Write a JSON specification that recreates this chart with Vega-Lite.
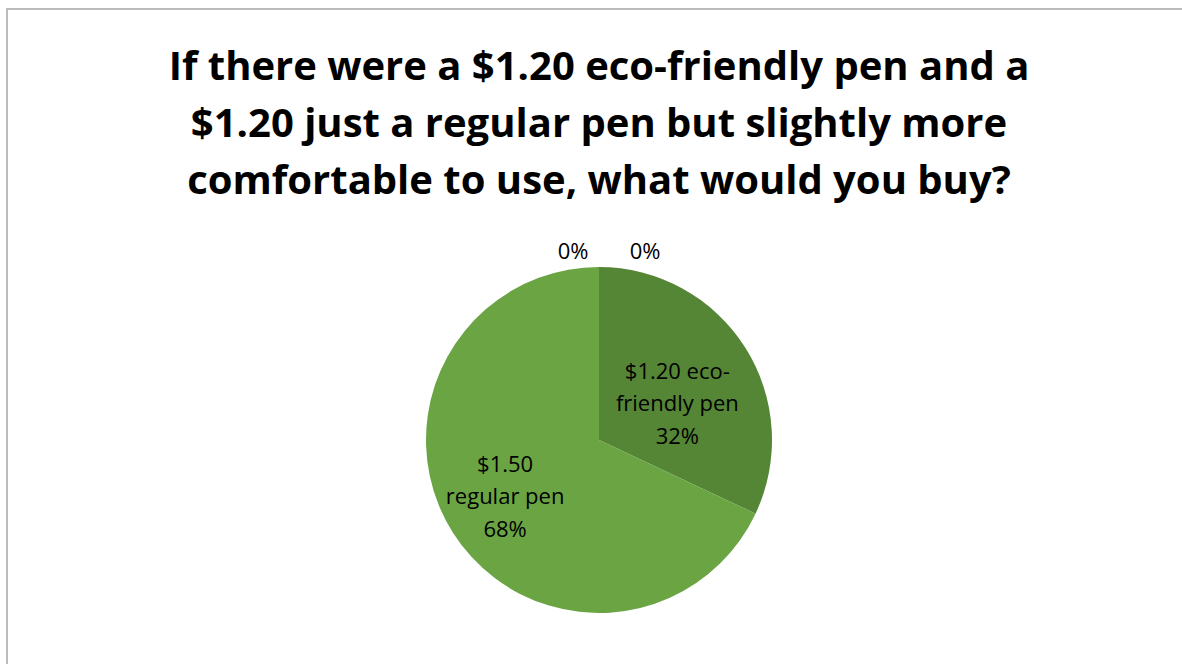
{
  "$schema": "https://vega.github.io/schema/vega-lite/v6.json",
  "width": 1184,
  "height": 862,
  "autosize": {"type": "none"},
  "padding": {"left": 7, "top": 9, "right": 100, "bottom": 0},
  "background": "white",
  "view": {"stroke": "#a6a6a6", "strokeWidth": 1.5},
  "title": {
    "text": ["If there were a $1.20 eco-friendly pen and a", "$1.20 just a regular pen but slightly more", "comfortable to use, what would you buy?"],
    "orient": "top",
    "anchor": "middle",
    "offset": -193,
    "font": "Open Sans",
    "fontSize": 40,
    "fontWeight": "bold",
    "lineHeight": 57,
    "color": "black"
  },
  "data": {
    "values": [
      {"category": "Other A", "value": 0, "order": 0, "label": "0%"},
      {"category": "$1.20 eco-friendly pen", "value": 32, "order": 1, "label": "$1.20 eco-\nfriendly pen\n32%"},
      {"category": "$1.50 regular pen", "value": 68, "order": 2, "label": "$1.50\nregular pen\n68%"},
      {"category": "Other B", "value": 0, "order": 3, "label": "0%"}
    ]
  },
  "encoding": {
    "theta": {"field": "value", "type": "quantitative", "stack": true},
    "order": {"field": "order", "type": "quantitative"}
  },
  "layer": [
    {
      "mark": {"type": "arc", "radius": 173},
      "encoding": {
        "color": {
          "field": "category",
          "type": "nominal",
          "scale": {
            "domain": ["Other A", "$1.20 eco-friendly pen", "$1.50 regular pen", "Other B"],
            "range": ["#4f7e31", "#558636", "#6aa443", "#3e6b25"]
          },
          "legend": null
        }
      }
    },
    {
      "mark": {"type": "text", "radius": 88, "dx": 4, "dy": -21, "font": "Open Sans", "fontSize": 22, "lineHeight": 32.5, "lineBreak": "\n", "color": "black", "align": "center", "baseline": "middle"},
      "encoding": {
        "text": {"condition": {"test": "datum.category === '$1.20 eco-friendly pen'", "field": "label"}, "value": ""}
      }
    },
    {
      "mark": {"type": "text", "radius": 110, "dx": -1, "dy": -34, "font": "Open Sans", "fontSize": 22, "lineHeight": 32.5, "lineBreak": "\n", "color": "black", "align": "center", "baseline": "middle"},
      "encoding": {
        "text": {"condition": {"test": "datum.category === '$1.50 regular pen'", "field": "label"}, "value": ""}
      }
    },
    {
      "mark": {"type": "text", "radius": 189, "dx": 46, "dy": 1, "font": "Open Sans", "fontSize": 22, "color": "black", "align": "center", "baseline": "middle"},
      "encoding": {
        "text": {"condition": {"test": "datum.category === 'Other A'", "field": "label"}, "value": ""}
      }
    },
    {
      "mark": {"type": "text", "radius": 189, "dx": -26, "dy": 1, "font": "Open Sans", "fontSize": 22, "color": "black", "align": "center", "baseline": "middle"},
      "encoding": {
        "text": {"condition": {"test": "datum.category === 'Other B'", "field": "label"}, "value": ""}
      }
    }
  ]
}
